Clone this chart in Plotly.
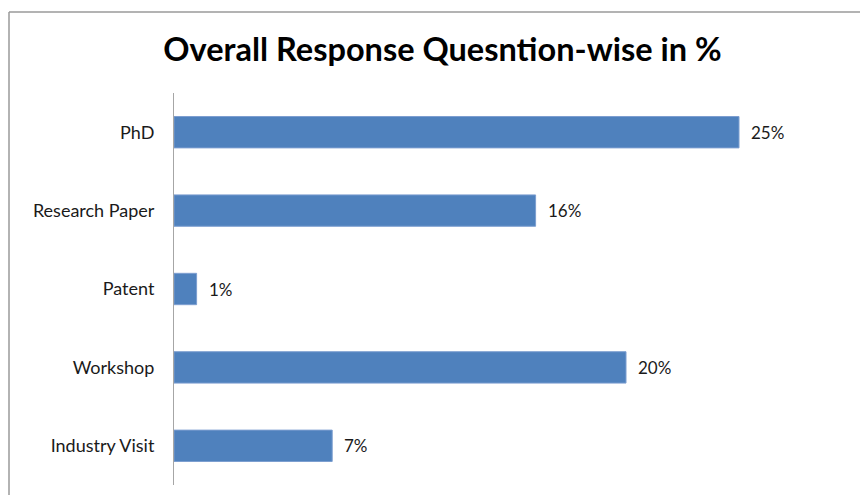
import plotly.graph_objects as go

categories = ["PhD", "Research Paper", "Patent", "Workshop", "Industry Visit"]
values = [25, 16, 1, 20, 7]
title_text = "Overall Response Quesntion-wise in %"

W, H = 860, 495
L, R, T, B = 174, 8, 93, 10
pw, ph = W - L - R, H - T - B

fig = go.Figure()
fig.add_trace(go.Bar(
    y=categories, x=values, orientation="h",
    marker=dict(color="#4F81BD", line=dict(color="#7C9ED0", width=1)),
    width=0.4, hoverinfo="skip",
))

for c, v in zip(categories, values):
    fig.add_annotation(x=v, y=c, xref="x", yref="y", text=f"{v}%",
                       showarrow=False, xanchor="left", xshift=10,
                       font=dict(family="Lato", size=17, color="#1a1a1a"))

# chart frame (left and top edges visible; right/bottom fall outside the view)
fx = (9 - L) / pw
fy = 1 + (T - 12) / ph
fig.add_shape(type="line", xref="paper", yref="paper",
              x0=fx, x1=fx, y0=-(B + 40) / ph, y1=fy,
              line=dict(color="#9a9a9a", width=1.5))
fig.add_shape(type="line", xref="paper", yref="paper",
              x0=fx, x1=(W + 40 - L) / pw, y0=fy, y1=fy,
              line=dict(color="#9a9a9a", width=1.5))

fig.update_layout(
    width=W, height=H,
    margin=dict(l=L, r=R, t=T, b=B, autoexpand=False),
    paper_bgcolor="white", plot_bgcolor="white",
    showlegend=False,
    title=dict(text=f"<b>{title_text}</b>", x=(163 + 722) / 2 / W, xanchor="center",
               y=1 - 50 / H, yanchor="middle",
               font=dict(family="Lato", size=32.5, color="#000000")),
    xaxis=dict(range=[0, pw / 22.6], visible=False, fixedrange=True),
    yaxis=dict(categoryorder="array", categoryarray=categories, autorange="reversed",
               showline=True, linecolor="#a6a6a6", linewidth=1, automargin=False,
               showgrid=False, zeroline=False, ticks="", ticklabelstandoff=15,
               tickfont=dict(family="Lato", size=18, color="#1a1a1a")),
    font=dict(family="Lato"),
)

fig.write_html("out.html", config={"displayModeBar": False},
               post_script="document.body.style.margin='0';document.body.style.overflow='hidden';")
